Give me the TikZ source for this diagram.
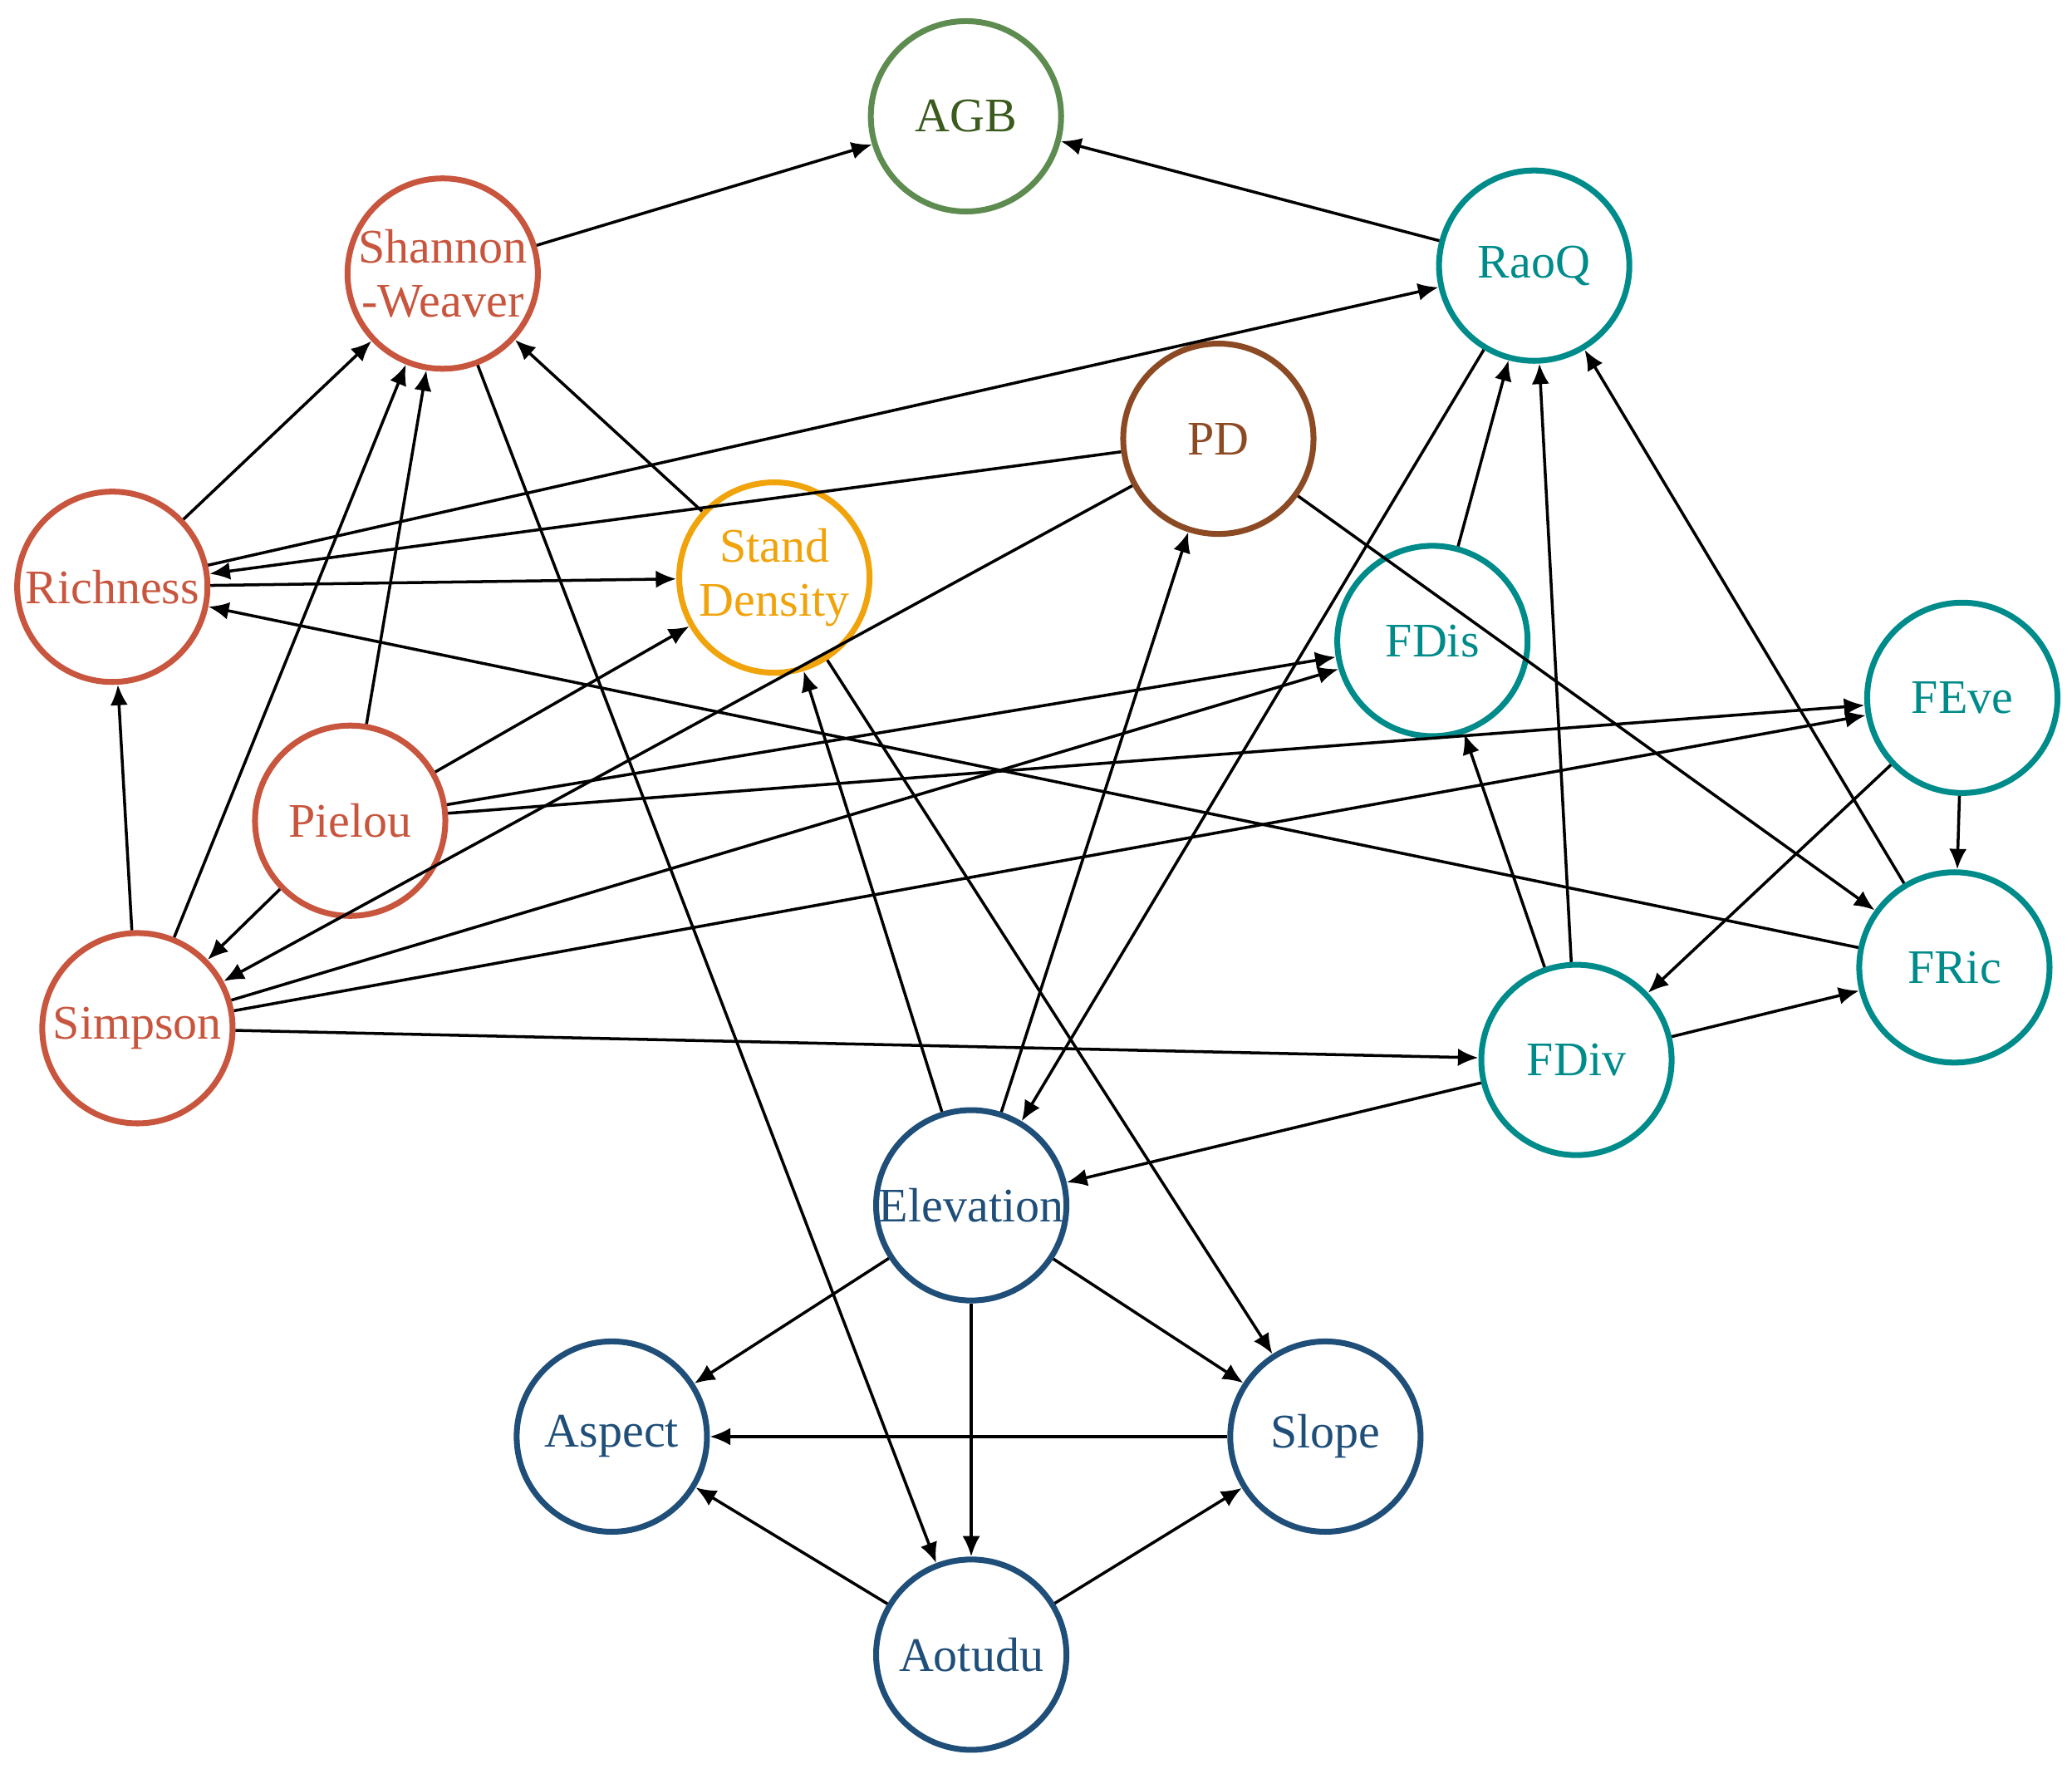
\documentclass[tikz,border=0pt]{standalone}
\usepackage{fontspec}
\setmainfont{Liberation Serif}
\usetikzlibrary{arrows.meta}
\definecolor{divcol}{HTML}{C8553D}
\definecolor{sdcol}{HTML}{F0A30A}
\definecolor{agbcol}{HTML}{5E8C50}
\definecolor{agbtxt}{HTML}{3B5A1E}
\definecolor{fcol}{HTML}{008B8B}
\definecolor{pdcol}{HTML}{8B4A23}
\definecolor{topo}{HTML}{1F4E79}
\tikzset{
  var/.style={circle, draw, line width=2pt, minimum size=2.29cm, inner sep=0pt,
    align=center, font=\fontsize{16.5}{18.5}\selectfont},
  edge/.style={-{Latex[length=7pt,width=6pt]}, line width=1pt}
}
\begin{document}
\begin{tikzpicture}[x=0.0159cm, y=-0.0159cm]
    \useasboundingbox (0,0) rectangle (1568,1338);
    \node[var, draw=agbcol, text=agbtxt] (agb) at (731,88) {AGB};
    \node[var, draw=divcol, text=divcol] (shan) at (335,207) {Shannon\\-Weaver};
    \node[var, draw=fcol, text=fcol] (raoq) at (1161,201) {RaoQ};
    \node[var, draw=pdcol, text=pdcol] (pd) at (922,332) {PD};
    \node[var, draw=divcol, text=divcol] (rich) at (85,444) {Richness};
    \node[var, draw=sdcol, text=sdcol] (sd) at (586,437) {Stand\\Density};
    \node[var, draw=fcol, text=fcol] (fdis) at (1084,485) {FDis};
    \node[var, draw=fcol, text=fcol] (feve) at (1485,528) {FEve};
    \node[var, draw=divcol, text=divcol] (piel) at (265,621) {Pielou};
    \node[var, draw=divcol, text=divcol] (simp) at (104,778) {Simpson};
    \node[var, draw=fcol, text=fcol] (fric) at (1479,732) {FRic};
    \node[var, draw=fcol, text=fcol] (fdiv) at (1193,802) {FDiv};
    \node[var, draw=topo, text=topo] (elev) at (735,912) {Elevation};
    \node[var, draw=topo, text=topo] (asp) at (463,1087) {Aspect};
    \node[var, draw=topo, text=topo] (slope) at (1003,1087) {Slope};
    \node[var, draw=topo, text=topo] (aot) at (735,1252) {Aotudu};
    % paths
    \draw[edge] (shan) -- (agb);
    \draw[edge] (raoq) -- (agb);
    \draw[edge] (rich) -- (shan);
    \draw[edge] (simp) -- (shan);
    \draw[edge] (piel) -- (shan);
    \draw[edge] (sd) -- (shan);
    \draw[edge] (shan) -- (aot);
    \draw[edge] (rich) -- (raoq);
    \draw[edge] (pd) -- (rich);
    \draw[edge] (rich) -- (sd);
    \draw[edge] (pd) -- (simp);
    \draw[edge] (elev) -- (pd);
    \draw[edge] (fdis) -- (raoq);
    \draw[edge] (fdiv) -- (raoq);
    \draw[edge] (fric) -- (raoq);
    \draw[edge] (raoq) -- (elev);
    \draw[edge] (pd) -- (fric);
    \draw[edge] (piel) -- (fdis);
    \draw[edge] (piel) -- (feve);
    \draw[edge] (piel) -- (sd);
    \draw[edge] (piel) -- (simp);
    \draw[edge] (simp) -- (rich);
    \draw[edge] (fric) -- (rich);
    \draw[edge] (simp) -- (fdis);
    \draw[edge] (simp) -- (feve);
    \draw[edge] (simp) -- (fdiv);
    \draw[edge] (feve) -- (fdiv);
    \draw[edge] (feve) -- (fric);
    \draw[edge] (fdiv) -- (fdis);
    \draw[edge] (fdiv) -- (fric);
    \draw[edge] (fdiv) -- (elev);
    \draw[edge] (elev) -- (sd);
    \draw[edge] (sd) -- (slope);
    \draw[edge] (elev) -- (asp);
    \draw[edge] (elev) -- (slope);
    \draw[edge] (elev) -- (aot);
    \draw[edge] (slope) -- (asp);
    \draw[edge] (aot) -- (asp);
    \draw[edge] (aot) -- (slope);
\end{tikzpicture}
\end{document}
